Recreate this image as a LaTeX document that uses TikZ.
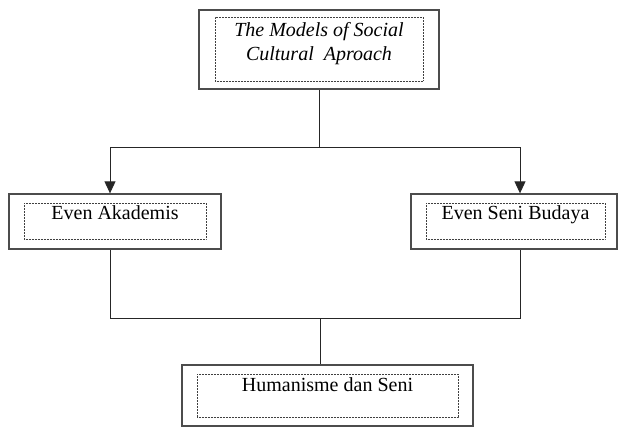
\documentclass[tikz,border=0pt]{standalone}
\usepackage{fontspec}
\setmainfont{Liberation Serif}
\usetikzlibrary{arrows.meta}
\tikzset{>={Triangle[width=11pt,length=12pt]}, % filled triangle tips
  frame/.style={draw=black!70, line width=1.3pt, inner sep=0pt},
  label box/.style={draw=black!75, line width=0.7pt, dash pattern=on 0.8pt off 0.7pt,
    inner xsep=0pt, inner ysep=2pt, text height=15pt, text depth=17pt},
  link/.style={draw=black!85, line width=0.9pt},
  chart/.style={
    x=1pt,
    y=1pt,
    font={\fontsize{20}{24}\selectfont},
  },
}

\begin{document}
\begin{tikzpicture}[chart]
    \useasboundingbox (0,0) rectangle (618,428);

    % top
    \node [frame, minimum width=240pt, minimum height=79pt] (models frame) at (319,378.5) {};
    \node [label box, minimum width=208pt, align=center, text height=42pt, text depth=18pt,
      font={\fontsize{20}{24}\selectfont\itshape}]
    (models) at (319,379) {The Models of Social\\Cultural\ \ Aproach};

    % middle row
    \node [frame, minimum width=212pt, minimum height=55pt] (akademis frame) at (115,206.5) {};
    \node [label box, minimum width=182pt] (akademis) at (115,207) {Even Akademis};

    \node [frame, minimum width=206pt, minimum height=55pt] (budaya frame) at (514,206.5) {};
    \node [label box, minimum width=179pt] (budaya) at (515.5,207) {Even Seni Budaya};

    % bottom
    \node [frame, minimum width=291pt, minimum height=61pt] (humanisme frame) at (327.5,32.5) {};
    \node [label box, minimum width=261pt, text height=16pt, text depth=23pt]
    (humanisme) at (327.5,32.5) {Humanisme dan Seni};

    \draw [link] (models frame.south) -- ++(0,-58) coordinate (split);
    \draw [link,->] (split) -| ([xshift=-5pt]akademis frame.north);
    \draw [link,->] (split) -| ([xshift=6pt]budaya frame.north);

    \coordinate (join) at ([xshift=-7.5pt,yshift=46pt]humanisme frame.north);
    \draw [link] ([xshift=-5pt]akademis frame.south) |- (join)
    -| ([xshift=6pt]budaya frame.south);
    \draw [link] (join) -- ([xshift=-7.5pt]humanisme frame.north);

\end{tikzpicture}
\end{document}
